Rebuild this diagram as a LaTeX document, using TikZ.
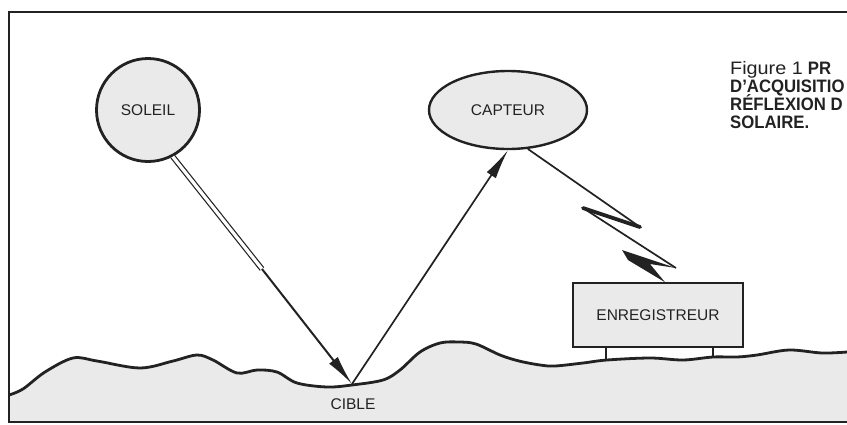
\documentclass[tikz,border=0pt]{standalone}
\usepackage{fontspec}
\setmainfont{Liberation Sans}
\newfontfamily\capbold[FakeStretch=0.93]{Liberation Sans Bold}
\newfontfamily\capreg[FakeStretch=1.1]{Liberation Sans}
\usetikzlibrary{arrows.meta,shapes.geometric}
\definecolor{ink}{HTML}{222222}
\definecolor{paperfill}{HTML}{EAEAEA}
\tikzset{
  lbl/.style={font=\fontsize{15.5}{18}\selectfont, text=ink},
  sunbody/.style={circle, draw=ink, fill=paperfill, line width=2.8pt, minimum size=103pt, inner sep=0pt, lbl},
  sensor/.style={ellipse, draw=ink, fill=paperfill, line width=2.4pt, minimum width=158pt, minimum height=78pt, inner sep=0pt, lbl},
  recbox/.style={rectangle, draw=ink, fill=paperfill, line width=1.5pt, minimum width=170pt, minimum height=64pt, inner sep=0pt, lbl},
  ray/.style={draw=ink, line width=1.7pt},
  bigtip/.style={-{Latex[length=30pt,width=11pt]}},
  legline/.style={draw=ink, line width=1.5pt},
  groundline/.style={draw=ink, line width=2.8pt, line join=round},
  framel/.style={draw=ink, line width=1.8pt},
  capline/.style={anchor=base west, inner sep=0pt, text=ink, font=\fontsize{18}{18}\selectfont}
}
\begin{document}
\begin{tikzpicture}[x=1pt,y=-1pt]
\useasboundingbox (0,0) rectangle (847,424);
\fill[white] (0,0) rectangle (847,424);
% ground
\fill[paperfill] plot[smooth, tension=0.55] coordinates {(9,395) (23,389) (45,372) (73,358) (97,361) (140,368) (173,361) (197,355) (213,360) (237,373) (257,370) (277,372) (297,383) (327,387) (352,385) (383,380) (400,370) (420,352) (440,343) (459,342) (476,344) (500,355) (519,361) (540,365) (555,366) (583,363) (607,360) (650,358) (683,360) (713,357) (737,357) (757,355) (789,350) (822,353) (847,352)} -- (847,422) -- (9,422) -- cycle;
\draw[groundline] plot[smooth, tension=0.55] coordinates {(9,395) (23,389) (45,372) (73,358) (97,361) (140,368) (173,361) (197,355) (213,360) (237,373) (257,370) (277,372) (297,383) (327,387) (352,385) (383,380) (400,370) (420,352) (440,343) (459,342) (476,344) (500,355) (519,361) (540,365) (555,366) (583,363) (607,360) (650,358) (683,360) (713,357) (737,357) (757,355) (789,350) (822,353) (847,352)};
% frame
\draw[framel] (847,12) -- (9,12) -- (9,422) -- (847,422);
% nodes
\node[sunbody] (soleil) at (148,110) {SOLEIL};
\node[sensor] (capteur) at (508,110) {CAPTEUR};
\node[recbox] (enr) at (658,315) {ENREGISTREUR};
\coordinate (cible) at (352,384);
\node[lbl, anchor=center] (ciblelbl) at (353,404) {CIBLE};
% legs
\coordinate (legA) at (606,361);
\coordinate (legB) at (713,358);
\draw[legline] (enr.south -| legA) -- (legA);
\draw[legline] (enr.south -| legB) -- (legB);
% sun ray
\coordinate (raymid) at (262,269);
\draw[draw=ink, double=white, double distance=3.2pt, line width=1.2pt] (soleil.-62) -- (raymid);
\draw[ray, line width=2pt, bigtip] (raymid) -- (cible);
% reflected ray
\draw[ray, bigtip] (cible) -- (capteur.south);
% lightning link
\coordinate (p1) at (640,227);
\coordinate (p2) at (583,208);
\coordinate (p3) at (676,268);
\coordinate (p4) at (622,250);
\coordinate (bolttip) at (enr.north -| 665,0);
\draw[ray] (capteur.-63) -- (p1);
\draw[draw=ink, line width=3.8pt, line cap=round] (p1) -- (p2);
\draw[ray] (p2) -- (p3);
\fill[ink] (p3) -- (p4) -- (628,260) -- (bolttip) -- (650,264) -- cycle;
% caption
\node[capline] (cap1) at (730,74) {{\capreg Figure 1} {\capbold PR}};
\node[capline] (cap2) at (730,92) {\capbold D’ACQUISITIO};
\node[capline] (cap3) at (730,110) {\capbold RÉFLEXION D};
\node[capline] (cap4) at (730,128) {\capbold SOLAIRE.};
\end{tikzpicture}
\end{document}
